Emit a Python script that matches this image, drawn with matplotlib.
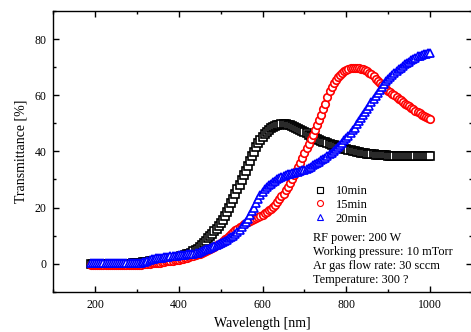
import matplotlib
matplotlib.use("Agg")
import matplotlib.pyplot as plt
from matplotlib.ticker import MultipleLocator

plt.rcParams['font.family'] = ['Liberation Serif', 'DejaVu Serif']

# wavelength grid (nm): 190 ... 1000 in 5 nm steps (163 readings)
wl = list(range(190, 1001, 5))

# 10 min sample, rows of 10 readings (190-235, 240-285, ...)
t10 = [0, 0, 0, 0, 0, 0, 0, 0, 0, 0,
       0, 0, 0, 0, 0, 0, 0, 0, 0, 0,
       0.1, 0.15, 0.2, 0.3, 0.4, 0.5, 0.6, 0.7, 0.8, 0.9,
       1.0, 1.1, 1.2, 1.3, 1.4, 1.55, 1.7, 1.85, 2.0, 2.1,
       2.2, 2.35, 2.5, 2.7, 2.9, 3.1, 3.3, 3.6, 4.0, 4.4,
       4.8, 5.4, 6.0, 6.7, 7.5, 8.2, 9.0, 9.7, 10.5, 11.5,
       12.5, 13.5, 14.5, 15.7, 17.0, 18.5, 20.0, 21.5, 23.0, 24.7,
       26.5, 28.1, 29.8, 31.5, 33.1, 34.8, 36.5, 38.2, 39.8, 41.4,
       43.0, 44.2, 45.3, 46.2, 47.0, 47.6, 48.2, 48.6, 49.0, 49.3,
       49.5, 49.6, 49.6, 49.6, 49.5, 49.3, 49.0, 48.7, 48.3, 48.0,
       47.6, 47.2, 46.8, 46.4, 46.0, 45.6, 45.2, 44.8, 44.5, 44.1,
       43.8, 43.5, 43.2, 42.9, 42.6, 42.3, 42.1, 41.8, 41.6, 41.4,
       41.2, 41.0, 40.8, 40.6, 40.4, 40.2, 40.1, 39.9, 39.8, 39.6,
       39.5, 39.3, 39.2, 39.1, 39.0, 38.9, 38.8, 38.75, 38.7, 38.65,
       38.6, 38.55, 38.5, 38.45, 38.4, 38.35, 38.3, 38.3, 38.25, 38.2,
       38.2, 38.2, 38.2, 38.2, 38.2, 38.2, 38.2, 38.2, 38.2, 38.2,
       38.2, 38.2, 38.2]

# 15 min sample
t15 = [-0.3, -0.3, -0.3, -0.3, -0.3, -0.3, -0.3, -0.3, -0.3, -0.3,
       -0.3, -0.3, -0.3, -0.3, -0.3, -0.3, -0.3, -0.3, -0.3, -0.3,
       -0.3, -0.3, -0.3, -0.3, -0.3, -0.25, -0.2, -0.1, 0.0, 0.1,
       0.2, 0.25, 0.3, 0.4, 0.5, 0.6, 0.8, 0.9, 1.0, 1.1,
       1.2, 1.35, 1.5, 1.65, 1.8, 2.0, 2.2, 2.4, 2.6, 2.8,
       3.0, 3.3, 3.6, 3.9, 4.3, 4.6, 4.9, 5.2, 5.5, 6.0,
       6.5, 7.0, 7.5, 8.1, 8.7, 9.3, 10.0, 10.6, 11.3, 11.9,
       12.5, 13.0, 13.5, 14.0, 14.5, 14.9, 15.3, 15.6, 16.0, 16.4,
       16.8, 17.1, 17.5, 18.0, 18.5, 19.0, 19.5, 20.2, 21.0, 22.0,
       23.0, 24.0, 25.0, 26.2, 27.5, 28.7, 30.0, 31.5, 33.0, 34.5,
       36.0, 37.7, 39.5, 41.2, 42.8, 44.4, 46.0, 47.7, 49.5, 51.2,
       53.0, 55.0, 57.0, 59.2, 61.5, 63.0, 64.3, 65.4, 66.5, 67.3,
       68.0, 68.5, 69.0, 69.3, 69.6, 69.7, 69.8, 69.7, 69.6, 69.4,
       69.2, 68.9, 68.5, 68.0, 67.5, 66.7, 65.8, 65.2, 64.5, 63.8,
       63.0, 62.2, 61.5, 61.0, 60.5, 59.9, 59.3, 58.8, 58.2, 57.6,
       57.0, 56.5, 56.0, 55.5, 55.0, 54.5, 54.0, 53.5, 53.0, 52.6,
       52.2, 51.8, 51.4]

# 20 min sample
t20 = [0.3, 0.3, 0.3, 0.3, 0.3, 0.3, 0.3, 0.3, 0.3, 0.3,
       0.3, 0.3, 0.3, 0.3, 0.3, 0.3, 0.3, 0.3, 0.3, 0.3,
       0.3, 0.3, 0.3, 0.35, 0.4, 0.5, 0.6, 0.9, 1.5, 1.7,
       1.8, 1.9, 2.0, 2.1, 2.2, 2.3, 2.4, 2.5, 2.6, 2.7,
       2.8, 2.9, 3.0, 3.05, 3.1, 3.2, 3.3, 3.4, 3.5, 3.6,
       3.7, 3.9, 4.1, 4.4, 4.8, 5.1, 5.3, 5.6, 6.0, 6.3,
       6.7, 7.1, 7.5, 7.9, 8.2, 8.6, 9.0, 9.5, 10.0, 10.6,
       11.3, 12.1, 13.0, 14.0, 15.0, 16.1, 17.3, 18.6, 20.0, 21.5,
       23.0, 24.3, 25.5, 26.5, 27.3, 27.9, 28.5, 29.1, 29.6, 30.1,
       30.5, 30.9, 31.3, 31.6, 31.8, 32.0, 32.2, 32.4, 32.6, 32.8,
       33.0, 33.2, 33.5, 33.8, 34.2, 34.6, 35.0, 35.4, 35.8, 36.3,
       36.8, 37.3, 37.8, 38.4, 39.0, 39.6, 40.2, 40.8, 41.5, 42.2,
       43.0, 43.9, 44.8, 45.6, 46.5, 47.5, 48.5, 49.6, 50.8, 51.9,
       53.0, 54.1, 55.2, 56.3, 57.5, 58.7, 59.8, 60.9, 62.0, 63.0,
       64.0, 64.9, 65.8, 66.5, 67.2, 67.9, 68.5, 69.2, 69.8, 70.4,
       71.0, 71.5, 72.0, 72.5, 73.0, 73.4, 73.8, 74.1, 74.3, 74.5,
       74.7, 74.9, 75.0]

labels = ['10min', '15min', '20min']
colors = ['black', 'red', 'blue']
markers = ['s', 'o', '^']
notes = ['RF power: 200 W', 'Working pressure: 10 mTorr',
         'Ar gas flow rate: 30 sccm', 'Temperature: 300 ?']

fig = plt.figure(figsize=(4.71, 3.32), dpi=100)
ax = fig.add_axes([0.113, 0.121, 0.889, 0.846])

for y, c, m, lab in zip([t10, t15, t20], colors, markers, labels):
    ax.plot(wl, y, linestyle='none', marker=m, markersize=5.4,
            markerfacecolor='white', markeredgecolor=c, markeredgewidth=1.2,
            label=lab)

ax.set_xlim(100, 1100)
ax.set_ylim(-10, 90)
ax.xaxis.set_minor_locator(MultipleLocator(100))
ax.yaxis.set_major_locator(MultipleLocator(20))
ax.yaxis.set_minor_locator(MultipleLocator(10))
ax.set_xticks([200, 400, 600, 800, 1000])
ax.tick_params(which='both', direction='in', top=True, right=True,
               labelsize=8.5, width=1.0)
ax.tick_params(which='major', length=4.5, pad=5)
ax.tick_params(which='minor', length=2.5)
for s in ax.spines.values():
    s.set_linewidth(1.0)

ax.set_xlabel('Wavelength [nm]', fontsize=10, labelpad=4.5)
ax.set_ylabel('Transmittance [%]', fontsize=10, labelpad=5)

leg = ax.legend(loc='upper left', bbox_to_anchor=(0.605, 0.403), frameon=False,
                fontsize=9, handlelength=1.1, handletextpad=0.75,
                labelspacing=0.15, borderpad=0.0, markerscale=0.8)
for h in leg.legend_handles:
    h.set_markeredgewidth(0.8)

for i, n in enumerate(notes):
    ax.text(0.62, 0.192 - i * 0.0505, n, transform=ax.transAxes,
            fontsize=8.8, va='center', ha='left')

fig.savefig('out.png', dpi=100)
